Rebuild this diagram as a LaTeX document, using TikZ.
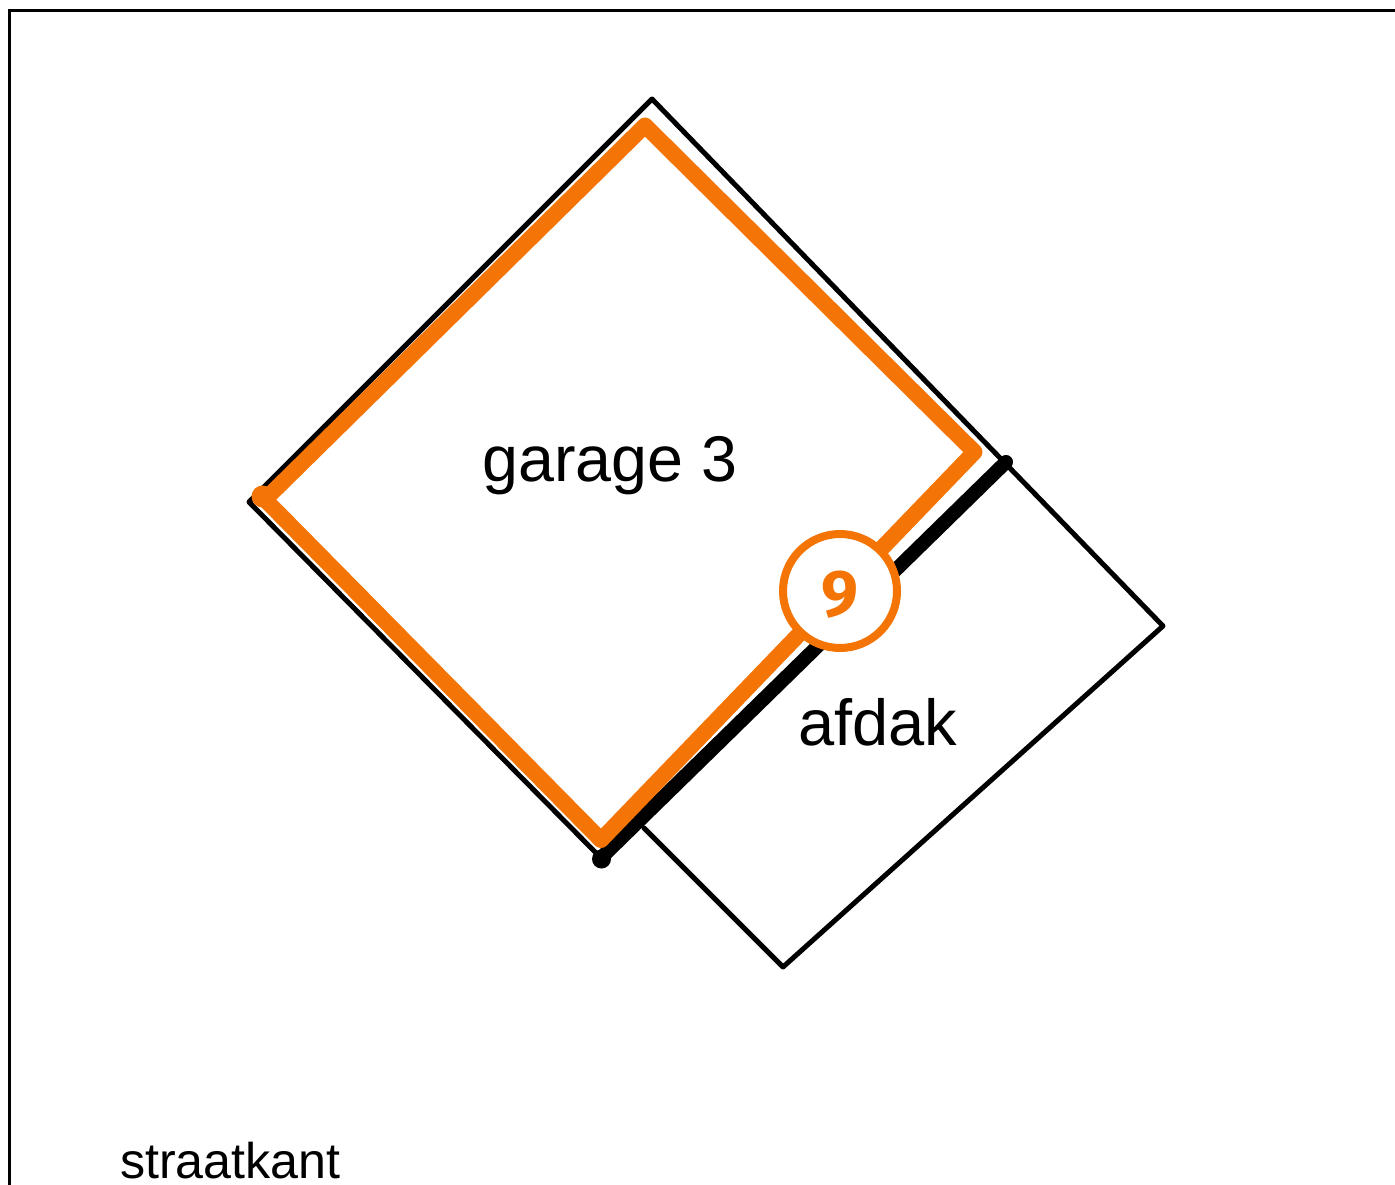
\documentclass[tikz,border=0pt]{standalone}
\usepackage{fontspec}
\setmainfont{Liberation Sans}
\newfontfamily\badgefont{Fira Sans}
\definecolor{garageorange}{RGB}{244,117,5}
\tikzset{
  thinline/.style={draw=black,line width=5pt,line join=round,line cap=round},
  thickline/.style={draw=black,line width=14pt,line cap=round},
  orangeline/.style={draw=garageorange,line width=16pt,line join=round,line cap=round},
  frameline/.style={draw=black,line width=3pt},
  label/.style={inner sep=0pt,anchor=base west,text=black},
  badge/.style={circle,draw=garageorange,fill=white,line width=8pt,minimum size=114pt,inner sep=0pt,text=garageorange,font=\badgefont\bfseries\fontsize{66}{66}\selectfont}
}
\begin{document}
\begin{tikzpicture}[x=1pt,y=-1pt]
\useasboundingbox (0,0) rectangle (1395,1185);
\fill[white] (0,0) rectangle (1395,1185);
\coordinate (ftl) at (9,11);
\coordinate (ftr) at (1400,11);
\coordinate (fbl) at (9,1190);
\draw[frameline] (fbl) -- (ftl) -- (ftr);
\coordinate (top) at (652,99);
\coordinate (junction) at (1006,462);
\coordinate (east) at (1163,626);
\coordinate (south) at (783,967);
\coordinate (shedfoot) at (644,828);
\coordinate (west) at (249,502);
\coordinate (foot) at (601,858);
\draw[thinline] (foot) -- (west) -- (top) -- (east) -- (south) -- (shedfoot);
\draw[thickline] (foot) -- (junction);
\fill[black] (601.5,859) circle (9.5pt);
\coordinate (ow) at (265,499.5);
\coordinate (on) at (645,125.5);
\coordinate (oe) at (974.5,452);
\coordinate (os) at (601,840);
\draw[orangeline] (ow) -- (on) -- (oe) -- (os) -- cycle;
\fill[garageorange] (262.5,496.5) circle (11pt);
\node[badge] (nine) at (840,591) {\raisebox{-3pt}[45pt][0pt]{9}};
\node[label,font=\fontsize{64.6}{64.6}\selectfont] (garage) at (482,481) {garage 3};
\node[label,font=\fontsize{65}{65}\selectfont] (afdak) at (798,745) {afdak};
\node[label,font=\fontsize{50.2}{50.2}\selectfont] (straat) at (120,1178) {straatkant};
\end{tikzpicture}
\end{document}
